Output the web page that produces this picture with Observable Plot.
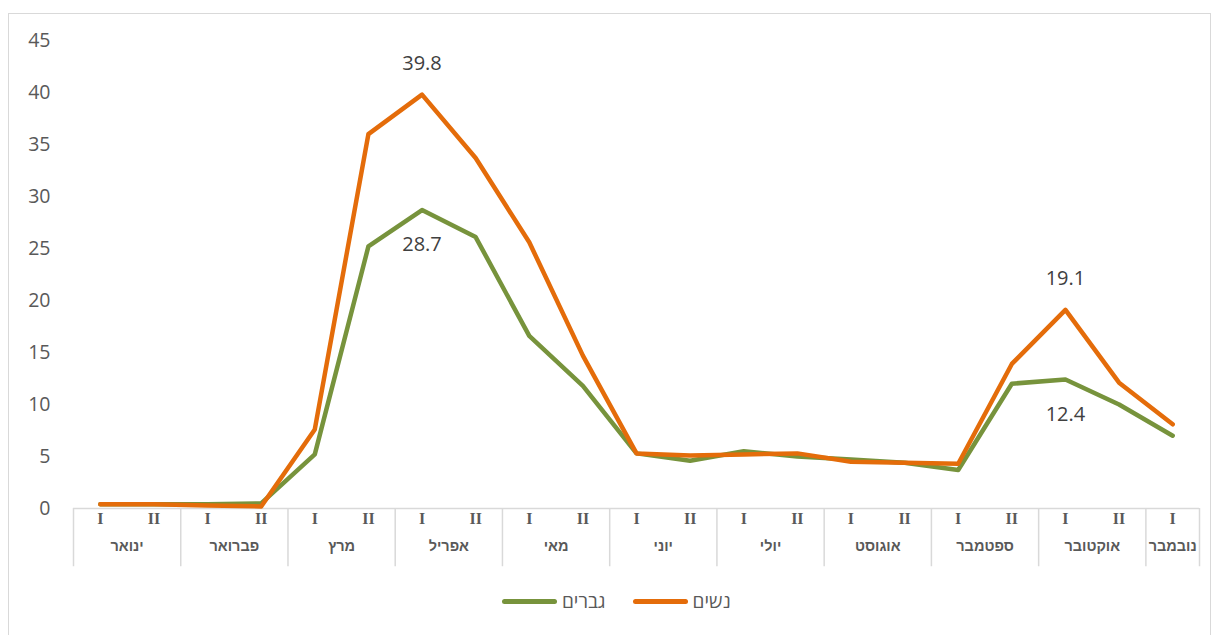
<!DOCTYPE html>
<html lang="he">
<head>
<meta charset="utf-8">
<script src="https://cdn.jsdelivr.net/npm/d3@7"></script>
<script src="https://cdn.jsdelivr.net/npm/@observablehq/plot@0.6"></script>
<style>
  html, body { margin: 0; padding: 0; background: #fff; }
  #wrap { position: relative; width: 1215px; height: 635px; overflow: hidden; }
  #frame { position: absolute; left: 8px; top: 13px; width: 1203px; height: 625px; border: 1px solid #d9d9d9; box-sizing: border-box; }
  #chart { position: absolute; left: 0; top: 0; }
  #legend { position: absolute; left: 502px; top: 588px; height: 26px; display: flex; align-items: center;
            font-family: "Open Sans", "Liberation Sans", sans-serif; font-size: 19px; color: #595959; }
  .item { display: flex; align-items: center; }
  .swatch { width: 55px; height: 5px; border-radius: 3px; }
  .lbl { margin-left: 5px; }
</style>
</head>
<body>
<div id="wrap">
  <div id="frame"></div>
  <div id="chart"></div>
  <div id="legend"></div>
</div>
<script>
// Months, in order, and the half-month periods shown along the axis
const months = ["ינואר", "פברואר", "מרץ", "אפריל", "מאי", "יוני", "יולי", "אוגוסט", "ספטמבר", "אוקטובר", "נובמבר"];
const periods = ["I", "II", "I", "II", "I", "II", "I", "II", "I", "II", "I", "II", "I", "II", "I", "II", "I", "II", "I", "II", "I"];
const periodMonth = [0, 0, 1, 1, 2, 2, 3, 3, 4, 4, 5, 5, 6, 6, 7, 7, 8, 8, 9, 9, 10];

// Series values per half-month
const women = [0.4, 0.4, 0.3, 0.2, 7.6, 36.0, 39.8, 33.7, 25.6, 14.7, 5.3, 5.1, 5.2, 5.3, 4.5, 4.4, 4.3, 13.9, 19.1, 12.1, 8.1];
const men   = [0.4, 0.4, 0.4, 0.5, 5.2, 25.2, 28.7, 26.1, 16.6, 11.8, 5.3, 4.6, 5.5, 5.0, 4.7, 4.4, 3.7, 12.0, 12.4, 10.0, 7.0];

const seriesNames = ["נשים", "גברים"];
const seriesColors = ["#E46C0A", "#77933C"];

// Y axis tick values
const yTicks = [0, 5, 10, 15, 20, 25, 30, 35, 40, 45];

// Points carrying a value label: [series index, period index]
const labelledAbove = [[0, 6], [0, 18]];
const labelledBelow = [[1, 6], [1, 18]];

const seriesData = [women, men];
const rows = [];
seriesData.forEach((vals, s) => vals.forEach((v, i) => rows.push({s: seriesNames[s], i, v})));

const toLabel = ([s, i]) => ({i, v: seriesData[s][i]});

const monthRows = months.map((m, k) => {
  const idx = periodMonth.map((pm, i) => pm === k ? i : -1).filter(i => i >= 0);
  return {m, start: idx[0] - 0.5, end: idx[idx.length - 1] + 0.5, mid: d3.mean(idx)};
});
const bounds = [...monthRows.map(d => d.start), monthRows[monthRows.length - 1].end];

const grey = "#d9d9d9";
const textGrey = "#595959";
const numFont = "Open Sans, Liberation Sans, sans-serif";
const valueText = {x: "i", y: "v", text: d => d.v.toFixed(1), fontFamily: numFont, fontSize: 20, fill: "#404040"};

const chart = Plot.plot({
  width: 1215,
  height: 580,
  marginTop: 40,
  marginBottom: 72,
  marginLeft: 73,
  marginRight: 16,
  x: {domain: [-0.5, 20.5], axis: null},
  y: {domain: [0, 45], axis: null},
  marks: [
    // y tick labels
    Plot.text(yTicks, {y: d => d, frameAnchor: "left", dx: -23, textAnchor: "end",
      text: d => String(d), fontFamily: numFont, fontSize: 19.5, fill: textGrey}),
    // category axis: baseline and month separators
    Plot.ruleY([0], {x1: -0.5, x2: 20.5, stroke: grey, strokeWidth: 1.5}),
    Plot.ruleX(bounds, {x: d => d, y1: 0, y2: -5.6, stroke: grey, strokeWidth: 1.5}),
    // half-month labels
    Plot.text(periods, {x: (d, i) => i, frameAnchor: "bottom", dy: 15, text: d => d,
      fontFamily: "Liberation Serif, serif", fontWeight: "bold", fontSize: 16, fill: textGrey}),
    // month labels
    Plot.text(monthRows, {x: "mid", frameAnchor: "bottom", dy: 42, text: "m",
      fontFamily: "Liberation Sans, Arial, sans-serif", fontWeight: "bold", fontSize: 14.5, fill: textGrey}),
    // series lines (men below, women on top)
    Plot.lineY(rows.filter(d => d.s === seriesNames[1]), {x: "i", y: "v", stroke: seriesColors[1],
      strokeWidth: 4.5, strokeLinejoin: "round", strokeLinecap: "round"}),
    Plot.lineY(rows.filter(d => d.s === seriesNames[0]), {x: "i", y: "v", stroke: seriesColors[0],
      strokeWidth: 4.5, strokeLinejoin: "round", strokeLinecap: "round"}),
    // value labels
    Plot.text(labelledAbove.map(toLabel), {...valueText, dy: -31}),
    Plot.text(labelledBelow.map(toLabel), {...valueText, dy: 35})
  ]
});
document.getElementById("chart").appendChild(chart);

// Legend: green (men) then orange (women), left to right
const legend = document.getElementById("legend");
[[1, 0], [0, 27]].forEach(([s, gap]) => {
  const item = document.createElement("div");
  item.className = "item";
  item.style.marginLeft = gap + "px";
  const sw = document.createElement("div");
  sw.className = "swatch";
  sw.style.background = seriesColors[s];
  const lb = document.createElement("span");
  lb.className = "lbl";
  lb.textContent = seriesNames[s];
  item.appendChild(sw);
  item.appendChild(lb);
  legend.appendChild(item);
});
</script>
</body>
</html>
